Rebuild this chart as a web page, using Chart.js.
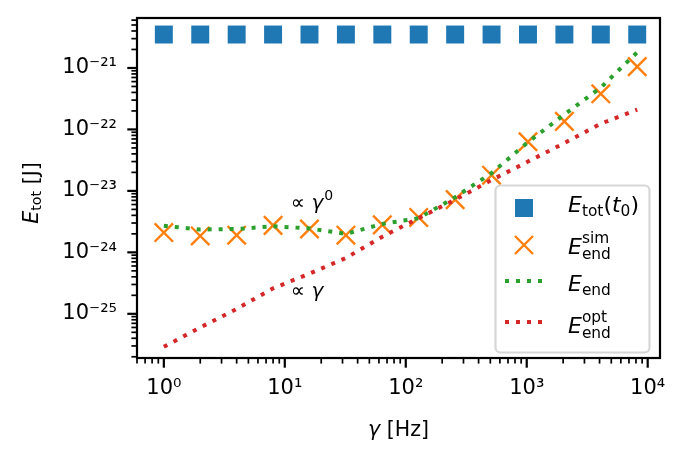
<!DOCTYPE html>
<html lang="en">
<head>
<meta charset="UTF-8">
<title>Energy vs gamma</title>
<script src="https://cdn.jsdelivr.net/npm/chart.js"></script>
<style>
  html, body { margin: 0; padding: 0; background: #fff; }
  #wrap { width: 686px; height: 459px; }
</style>
</head>
<body>
<div id="wrap"><canvas id="energyChart" width="686" height="459"></canvas></div>
<script>
// data
const gammaHz = [1, 2, 4, 8, 16, 32, 64, 128, 256, 512, 1024, 2048, 4096, 8192];
const eTotStart = [3.5e-21, 3.5e-21, 3.5e-21, 3.5e-21, 3.5e-21, 3.5e-21, 3.5e-21,
                   3.5e-21, 3.5e-21, 3.5e-21, 3.5e-21, 3.5e-21, 3.5e-21, 3.5e-21];
const eEndSim = [2.1e-24, 1.85e-24, 1.9e-24, 2.75e-24, 2.4e-24, 1.9e-24, 2.8e-24,
                 3.7e-24, 7.2e-24, 1.8e-23, 6.3e-23, 1.35e-22, 3.8e-22, 1.05e-21];
const eEndTheory = [2.7e-24, 2.35e-24, 2.4e-24, 2.65e-24, 2.45e-24, 2.0e-24, 2.9e-24,
                    3.6e-24, 7.9e-24, 1.95e-23, 6.2e-23, 1.75e-22, 4.8e-22, 1.8e-21];
const eEndOpt = [2.9e-26, 6.0e-26, 1.2e-25, 2.6e-25, 4.5e-25, 8.1e-25, 1.8e-24,
                 3.6e-24, 7.2e-24, 1.5e-23, 3.0e-23, 6.0e-23, 1.24e-22, 2.1e-22];
const xMajorTicks = [1, 10, 100, 1000, 10000];
const yMajorTicks = [1e-25, 1e-24, 1e-23, 1e-22, 1e-21];

const FONT = '"DejaVu Sans"';
Chart.defaults.font.family = FONT;
Chart.defaults.color = '#000';

const SUP = {'0':'⁰','1':'¹','2':'²','3':'³','4':'⁴','5':'⁵','6':'⁶','7':'⁷','8':'⁸','9':'⁹','-':'⁻'};
function powLabel(v) {
  const e = String(Math.round(Math.log10(v)));
  return '10' + e.split('').map(c => SUP[c]).join('');
}

function logTicks(min, max, majors) {
  const out = [];
  const lo = Math.floor(Math.log10(min)), hi = Math.ceil(Math.log10(max));
  for (let e = lo; e <= hi; e++) {
    for (let k = 1; k <= 9; k++) {
      const v = k * Math.pow(10, e);
      if (v >= min && v <= max) {
        const isMajor = k === 1 && majors.some(m => Math.abs(Math.log10(m) - e) < 1e-9);
        out.push({value: v, major: isMajor});
      }
    }
  }
  return out;
}

// fixed axis box, no extra padding from the labels
function fixBox(s, size) {
  if (s.isHorizontal()) s.height = size; else s.width = size;
  s.paddingTop = 0; s.paddingBottom = 0; s.paddingLeft = 0; s.paddingRight = 0;
}

// tiny mathtext: tokens {t, it, sub, sup}
function mathFont(size, it) { return (it ? 'italic ' : '') + size + 'px ' + FONT; }
function measureMath(ctx, toks, size) {
  let w = 0;
  for (const s of toks) {
    ctx.font = mathFont(size, s.it);
    w += ctx.measureText(s.t).width;
    let a = 0;
    ctx.font = mathFont(size * 0.7, false);
    if (s.sub) a = Math.max(a, ctx.measureText(s.sub).width);
    if (s.sup) a = Math.max(a, ctx.measureText(s.sup).width);
    w += a;
  }
  return w;
}
function drawMath(ctx, x, y, toks, size) {
  let cx = x;
  ctx.textBaseline = 'alphabetic';
  ctx.textAlign = 'left';
  for (const s of toks) {
    ctx.font = mathFont(size, s.it);
    ctx.fillText(s.t, cx, y);
    cx += ctx.measureText(s.t).width;
    let a = 0;
    ctx.font = mathFont(size * 0.7, false);
    if (s.sub) {
      ctx.fillText(s.sub, cx, y + size * (s.sup ? 0.22 : 0.16));
      a = Math.max(a, ctx.measureText(s.sub).width);
    }
    if (s.sup) {
      ctx.fillText(s.sup, cx + (s.sub ? 0 : 1), y - size * (s.sub ? 0.5 : 0.42));
      a = Math.max(a, ctx.measureText(s.sup).width);
    }
    cx += a;
  }
}

const legendItems = [
  {kind: 'square', label: [{t: 'E', it: true, sub: 'tot'}, {t: '('}, {t: 't', it: true, sub: '0'}, {t: ')'}]},
  {kind: 'cross', label: [{t: 'E', it: true, sub: 'end', sup: 'sim'}]},
  {kind: 'green', label: [{t: 'E', it: true, sub: 'end'}]},
  {kind: 'red', label: [{t: 'E', it: true, sub: 'end', sup: 'opt'}]}
];

const decorPlugin = {
  id: 'decor',
  afterDatasetsDraw(chart) {
    const ctx = chart.ctx;
    const a = chart.chartArea;
    const xs = chart.scales.x, ys = chart.scales.y;
    ctx.save();
    ctx.fillStyle = '#000';

    // slope annotations
    drawMath(ctx, xs.getPixelForValue(11.2), ys.getPixelForValue(5.1e-24),
      [{t: '∝ '}, {t: 'γ', it: true, sup: '0'}], 20);
    drawMath(ctx, xs.getPixelForValue(11.2), ys.getPixelForValue(1.9e-25),
      [{t: '∝ '}, {t: 'γ', it: true}], 20);

    // legend box
    const bx = 495.5, by = 185.5, bw = 154, bh = 167, r = 5;
    ctx.beginPath();
    ctx.moveTo(bx + r, by);
    ctx.arcTo(bx + bw, by, bx + bw, by + bh, r);
    ctx.arcTo(bx + bw, by + bh, bx, by + bh, r);
    ctx.arcTo(bx, by + bh, bx, by, r);
    ctx.arcTo(bx, by, bx + bw, by, r);
    ctx.closePath();
    ctx.fillStyle = 'rgba(255,255,255,0.8)';
    ctx.fill();
    ctx.strokeStyle = 'rgba(204,204,204,0.8)';
    ctx.lineWidth = 2.2;
    ctx.stroke();

    const handleY = [208, 245, 281, 322];
    const textY = [212, 254, 291, 333];
    legendItems.forEach((it, i) => {
      const y = handleY[i];
      if (it.kind === 'square') {
        ctx.fillStyle = '#1f77b4';
        ctx.fillRect(515, y - 9, 18, 18);
      } else if (it.kind === 'cross') {
        ctx.strokeStyle = '#ff7f0e';
        ctx.lineWidth = 2.4;
        ctx.beginPath();
        ctx.moveTo(515, y - 9); ctx.lineTo(533, y + 9);
        ctx.moveTo(515, y + 9); ctx.lineTo(533, y - 9);
        ctx.stroke();
      } else {
        ctx.strokeStyle = it.kind === 'green' ? '#2ca02c' : '#d62728';
        ctx.lineWidth = 4;
        ctx.setLineDash([4, 7]);
        ctx.beginPath();
        ctx.moveTo(505, y); ctx.lineTo(544, y);
        ctx.stroke();
        ctx.setLineDash([]);
      }
      ctx.fillStyle = '#000';
      drawMath(ctx, 568, textY[i], it.label, 22);
    });

    // frame
    ctx.strokeStyle = '#000';
    ctx.lineWidth = 2.2;
    ctx.strokeRect(a.left, a.top, a.right - a.left, a.bottom - a.top);

    // tick marks
    for (const t of xs.ticks) {
      const p = xs.getPixelForValue(t.value);
      ctx.lineWidth = t.major ? 2.2 : 1.7;
      ctx.beginPath();
      ctx.moveTo(p, a.bottom);
      ctx.lineTo(p, a.bottom + (t.major ? 9.7 : 5.6));
      ctx.stroke();
    }
    for (const t of ys.ticks) {
      const p = ys.getPixelForValue(t.value);
      ctx.lineWidth = t.major ? 2.2 : 1.7;
      ctx.beginPath();
      ctx.moveTo(a.left, p);
      ctx.lineTo(a.left - (t.major ? 9.7 : 5.6), p);
      ctx.stroke();
    }

    // axis titles
    ctx.fillStyle = '#000';
    const xt = [{t: 'γ', it: true}, {t: ' [Hz]'}];
    const xw = measureMath(ctx, xt, 20.5);
    drawMath(ctx, (a.left + a.right) / 2 - xw / 2, 436, xt, 20.5);
    const yt = [{t: 'E', it: true, sub: 'tot'}, {t: ' [J]'}];
    const yw = measureMath(ctx, yt, 20.5);
    ctx.translate(38, 193);
    ctx.rotate(-Math.PI / 2);
    drawMath(ctx, -yw / 2, 0, yt, 20.5);
    ctx.restore();
  }
};

const pts = arr => gammaHz.map((g, i) => ({x: g, y: arr[i]}));

new Chart(document.getElementById('energyChart'), {
  type: 'line',
  data: {
    datasets: [
      {label: 'E_tot(t0)', data: pts(eTotStart), showLine: false, pointStyle: 'rect',
       pointRadius: 12.7, pointBackgroundColor: '#1f77b4', pointBorderWidth: 0, order: 4},
      {label: 'E_end sim', data: pts(eEndSim), showLine: false, pointStyle: 'crossRot',
       pointRadius: 13, pointBorderColor: '#ff7f0e', pointBorderWidth: 2.4, order: 3},
      {label: 'E_end', data: pts(eEndTheory), borderColor: '#2ca02c', borderWidth: 4,
       borderDash: [4, 7], pointRadius: 0, tension: 0, fill: false, order: 2},
      {label: 'E_end opt', data: pts(eEndOpt), borderColor: '#d62728', borderWidth: 4,
       borderDash: [4, 7], pointRadius: 0, tension: 0, fill: false, order: 1}
    ]
  },
  options: {
    responsive: false,
    animation: false,
    events: [],
    layout: { padding: { top: 18, right: 26, left: 0, bottom: 0 } },
    plugins: { legend: { display: false }, tooltip: { enabled: false } },
    scales: {
      x: {
        type: 'logarithmic', min: 0.648, max: 12640,
        grid: { display: false, drawTicks: true, tickLength: 10 },
        border: { display: false },
        ticks: {
          autoSkip: false, maxRotation: 0, minRotation: 0, padding: 8,
          font: { size: 21 },
          callback: (v, i, ticks) => ticks[i].major ? powLabel(v) : ''
        },
        afterBuildTicks: s => { s.ticks = logTicks(s.min, s.max, xMajorTicks); },
        afterFit: s => fixBox(s, 101)
      },
      y: {
        type: 'logarithmic', min: 1.91e-26, max: 6.5e-21,
        grid: { display: false, drawTicks: true, tickLength: 10 },
        border: { display: false },
        ticks: {
          autoSkip: false, padding: 10,
          font: { size: 21 },
          callback: (v, i, ticks) => ticks[i].major ? powLabel(v) : ''
        },
        afterBuildTicks: s => { s.ticks = logTicks(s.min, s.max, yMajorTicks); },
        afterFit: s => fixBox(s, 137)
      }
    }
  },
  plugins: [decorPlugin]
});
</script>
</body>
</html>
